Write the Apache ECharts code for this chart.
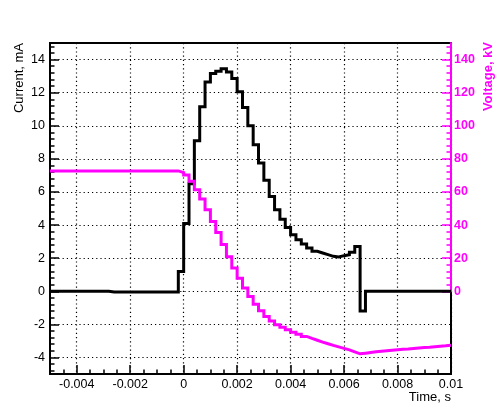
<!DOCTYPE html>
<html>
<head>
<meta charset="utf-8">
<script src="https://cdn.jsdelivr.net/npm/echarts@6/dist/echarts.min.js"></script>
<style>
  html, body { margin: 0; padding: 0; background: #fff; }
  #chart { width: 502px; height: 417px; }
</style>
</head>
<body>
<div id="chart"></div>
<script>
// histogram binning (75 bins from -0.005 s to 0.01 s)
const tMin = -0.005;
const tMax = 0.01;
const binWidth = 0.0002;

// current, mA, one value per bin
const currentMA = [
  0, 0, 0, 0, 0, 0, 0, 0, 0, 0, 0,
  -0.05, -0.05, -0.05, -0.05, -0.05, -0.05, -0.05, -0.05, -0.05, -0.05, -0.05, -0.05, -0.05,
  1.2, 4.1, 6.5, 9.1, 11.15, 12.65, 13.15, 13.3, 13.45, 13.25,
  12.85, 12.05, 11.1, 10.0, 8.85, 7.75, 6.7, 5.72, 4.92, 4.35,
  3.85, 3.42, 3.11, 2.85, 2.61, 2.41, 2.31, 2.21, 2.11, 2.07,
  2.15, 2.21, 2.35, 2.71, -1.2,
  0, 0, 0, 0, 0, 0, 0, 0, 0, 0, 0, 0, 0, 0, 0, 0
];

// voltage, kV, one value per bin
const voltageKV = [
  72.7, 72.7, 72.7, 72.7, 72.7, 72.7, 72.7, 72.7, 72.7, 72.7, 72.7, 72.7,
  72.7, 72.7, 72.7, 72.7, 72.7, 72.7, 72.7, 72.7, 72.7, 72.7, 72.7, 72.7,
  71.7, 70.3, 66.5, 61.3, 55.7, 49.2, 42.2, 35.5, 28.3, 20.8,
  14.0, 7.8, 2.0, -3.2, -7.8, -11.8, -15.2, -18.0, -20.2, -21.8,
  -23.3, -24.7, -26.0, -27.3, -28.5, -29.6, -30.7, -31.7, -32.7, -33.6,
  -34.5, -35.4, -36.6, -37.8, -37.4, -37.0, -36.6, -36.3, -36.0, -35.7,
  -35.4, -35.1, -34.9, -34.6, -34.3, -34.0, -33.8, -33.5, -33.2, -33.0,
  -32.7
];

const timeTicks = [-0.004, -0.002, 0, 0.002, 0.004, 0.006, 0.008, 0.01];
const currentTicks = [-4, -2, 0, 2, 4, 6, 8, 10, 12, 14];
const voltageTicks = [0, 20, 40, 60, 80, 100, 120, 140];

const FONT = '"Liberation Sans", Arial, Helvetica, sans-serif';
const MAGENTA = '#ff00ff';

// minor tick positions
function steps(from, to, step) {
  const out = [];
  const n = Math.round((to - from) / step);
  for (let k = 0; k <= n; k++) out.push(+(from + k * step).toFixed(6));
  return out;
}
const timeMinor = steps(-0.005, 0.01, 0.0005);
const currentMinor = steps(-4.8, 14.8, 0.4);
const voltageMinor = steps(0, 148, 4);

// histogram -> step line points (bin start, value) + closing point
function histPoints(values) {
  const pts = values.map((v, i) => [+(tMin + i * binWidth).toFixed(6), v]);
  pts.push([tMax, values[values.length - 1]]);
  return pts;
}

const dotted = { color: '#000', width: 1.2, type: [1.2, 3] };

const chart = echarts.init(document.getElementById('chart'));
chart.setOption({
  animation: false,
  backgroundColor: '#fff',
  grid: [
    { left: 50, right: 51, top: 43, bottom: 43, show: true, borderColor: '#000', borderWidth: 2, backgroundColor: 'transparent' },
    { left: 50, right: 51, top: 43, height: 248.25, show: false }
  ],
  xAxis: [
    {
      gridIndex: 0, type: 'value', position: 'bottom', min: tMin, max: tMax,
      axisLine: { onZero: false, lineStyle: { color: '#000', width: 2 } },
      axisTick: { inside: true, length: 9, customValues: timeTicks, lineStyle: { color: '#000', width: 1.5 } },
      axisLabel: { customValues: timeTicks, margin: 4, color: '#000', fontSize: 12.5, fontFamily: FONT,
        formatter: v => String(+v.toFixed(4)) },
      splitLine: { show: true, lineStyle: dotted }
    },
    {
      gridIndex: 0, type: 'value', position: 'bottom', min: tMin, max: tMax,
      axisLine: { show: false, onZero: false },
      axisTick: { inside: true, length: 4.5, customValues: timeMinor, lineStyle: { color: '#000', width: 1.5 } },
      axisLabel: { show: false },
      splitLine: { show: false }
    },
    { gridIndex: 1, type: 'value', show: false, min: tMin, max: tMax }
  ],
  yAxis: [
    {
      gridIndex: 0, type: 'value', position: 'left', min: -5, max: 15,
      axisLine: { onZero: false, lineStyle: { color: '#000', width: 2 } },
      axisTick: { inside: true, length: 9, customValues: currentTicks, lineStyle: { color: '#000', width: 1.5 } },
      axisLabel: { customValues: currentTicks, margin: 5, color: '#000', fontSize: 12.5, fontFamily: FONT },
      splitLine: { show: true, lineStyle: dotted }
    },
    {
      gridIndex: 0, type: 'value', position: 'left', min: -5, max: 15,
      axisLine: { show: false, onZero: false },
      axisTick: { inside: true, length: 4.5, customValues: currentMinor, lineStyle: { color: '#000', width: 1.5 } },
      axisLabel: { show: false },
      splitLine: { show: false }
    },
    { gridIndex: 0, type: 'value', position: 'right', min: -50, max: 150, show: false },
    {
      gridIndex: 1, type: 'value', position: 'right', min: 0, max: 150, z: 3,
      axisLine: { onZero: false, lineStyle: { color: MAGENTA, width: 2 } },
      axisTick: { inside: true, length: 9, customValues: voltageTicks, lineStyle: { color: MAGENTA, width: 1.5 } },
      axisLabel: { customValues: voltageTicks, margin: 3, color: MAGENTA, fontSize: 12.5, fontWeight: 'bold', fontFamily: FONT },
      splitLine: { show: false }
    },
    {
      gridIndex: 1, type: 'value', position: 'right', min: 0, max: 150, z: 3,
      axisLine: { show: false, onZero: false },
      axisTick: { inside: true, length: 4.5, customValues: voltageMinor, lineStyle: { color: MAGENTA, width: 1.5 } },
      axisLabel: { show: false },
      splitLine: { show: false }
    }
  ],
  graphic: [
    { type: 'text', x: 19, y: 43, rotation: Math.PI / 2,
      style: { text: 'Current, mA', fill: '#000', fontSize: 13, fontFamily: FONT, align: 'right', verticalAlign: 'middle' } },
    { type: 'text', x: 488, y: 42, rotation: Math.PI / 2,
      style: { text: 'Voltage, kV', fill: MAGENTA, fontSize: 13, fontWeight: 'bold', fontFamily: FONT, align: 'right', verticalAlign: 'middle' } },
    { type: 'text', x: 451, y: 391,
      style: { text: 'Time, s', fill: '#000', fontSize: 13, fontFamily: FONT, align: 'right', verticalAlign: 'top' } }
  ],
  series: [
    {
      name: 'Current', type: 'line', xAxisIndex: 0, yAxisIndex: 0, step: 'end',
      showSymbol: false, z: 3,
      lineStyle: { color: '#000', width: 3, join: 'miter' },
      data: histPoints(currentMA)
    },
    {
      name: 'Voltage', type: 'line', xAxisIndex: 0, yAxisIndex: 2, step: 'end',
      showSymbol: false, z: 4,
      lineStyle: { color: MAGENTA, width: 3, join: 'miter' },
      data: histPoints(voltageKV)
    }
  ]
});
</script>
</body>
</html>
